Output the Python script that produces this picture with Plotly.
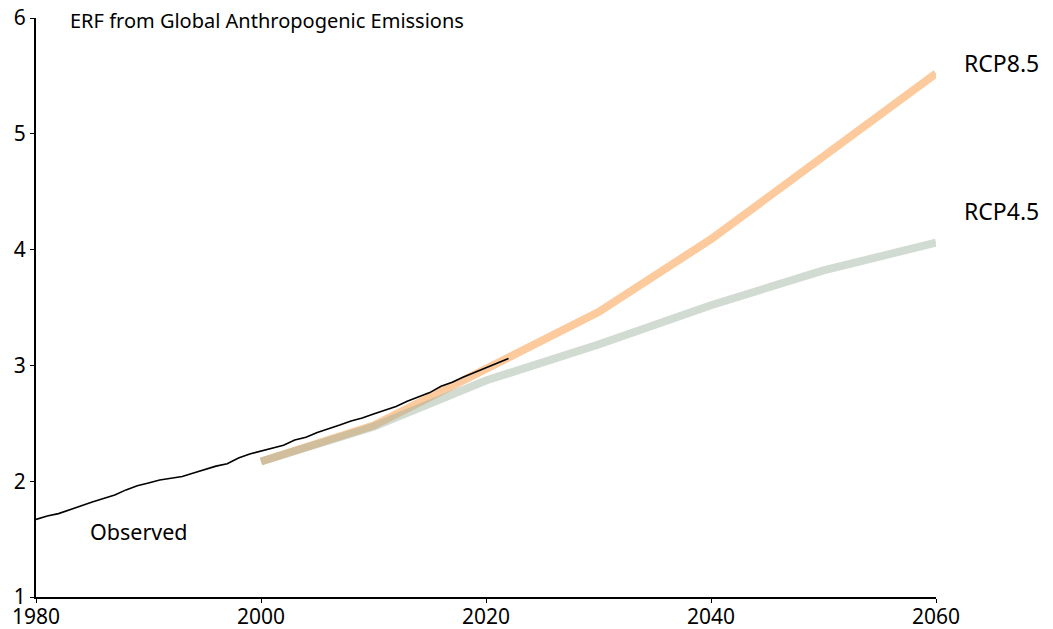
import plotly.graph_objects as go

obs_years = list(range(1980, 2023))
obs_values = [1.67, 1.70, 1.72, 1.755, 1.79, 1.82, 1.85, 1.88, 1.925, 1.96,
              1.985, 2.01, 2.025, 2.04, 2.07, 2.10, 2.13, 2.15, 2.20, 2.235,
              2.26, 2.28, 2.31, 2.355, 2.38, 2.42, 2.45, 2.485, 2.52, 2.545,
              2.58, 2.61, 2.645, 2.69, 2.725, 2.765, 2.82, 2.855, 2.90, 2.94,
              2.98, 3.02, 3.06]

rcp_years = [2000, 2010, 2020, 2030, 2040, 2050, 2060]
rcp85 = [2.17, 2.48, 2.97, 3.46, 4.09, 4.80, 5.52]
rcp45 = [2.17, 2.47, 2.87, 3.18, 3.52, 3.82, 4.06]

x_ticks = [1980, 2000, 2020, 2040, 2060]
y_ticks = [1, 2, 3, 4, 5, 6]

FONT = "Noto Sans"

fig = go.Figure()
fig.add_trace(go.Scatter(x=rcp_years, y=rcp85, mode="lines",
                         line=dict(color="#FDCA9E", width=8), hoverinfo="skip",
                         showlegend=False))
fig.add_trace(go.Scatter(x=rcp_years, y=rcp45, mode="lines",
                         line=dict(color="rgba(154,177,156,0.46)", width=8),
                         hoverinfo="skip", showlegend=False))
fig.add_trace(go.Scatter(x=obs_years, y=obs_values, mode="lines",
                         line=dict(color="black", width=1.6), showlegend=False))

fig.add_annotation(x=0.0356, xref="paper", y=0.995, yref="paper",
                   text="ERF from Global Anthropogenic Emissions",
                   showarrow=False, xanchor="left", yanchor="middle",
                   font=dict(family=FONT, size=20, color="black"))
fig.add_annotation(x=0.114, xref="paper", y=0.113, yref="paper", text="Observed",
                   showarrow=False, xanchor="center", yanchor="middle",
                   font=dict(family=FONT, size=21.5, color="black"))
fig.add_annotation(x=1.029, xref="paper", y=0.922, yref="paper", text="RCP8.5",
                   showarrow=False, xanchor="left", yanchor="middle",
                   font=dict(family=FONT, size=23, color="black"))
fig.add_annotation(x=1.029, xref="paper", y=0.666, yref="paper", text="RCP4.5",
                   showarrow=False, xanchor="left", yanchor="middle",
                   font=dict(family=FONT, size=23, color="black"))

fig.update_layout(
    width=1045, height=621,
    margin=dict(l=28, r=117, t=10, b=32),
    plot_bgcolor="white", paper_bgcolor="white",
    font=dict(family=FONT, size=21, color="black"),
)
fig.update_xaxes(range=[1980, 2060], tickvals=x_ticks, ticks="outside", ticklen=4,
                 tickcolor="black", showline=True, linecolor="black", linewidth=2,
                 showgrid=False, zeroline=False, tickfont=dict(size=21),
                 automargin=False, ticklabeloverflow="allow")
fig.update_yaxes(range=[1, 6], tickvals=y_ticks, ticks="outside", ticklen=4,
                 tickcolor="black", showline=True, linecolor="black", linewidth=2,
                 showgrid=False, zeroline=False, tickfont=dict(size=21),
                 automargin=False, ticklabeloverflow="allow")
try:
    fig.update_xaxes(ticklabelstandoff=-4)
except Exception:
    pass

fig.write_html("out.html")
